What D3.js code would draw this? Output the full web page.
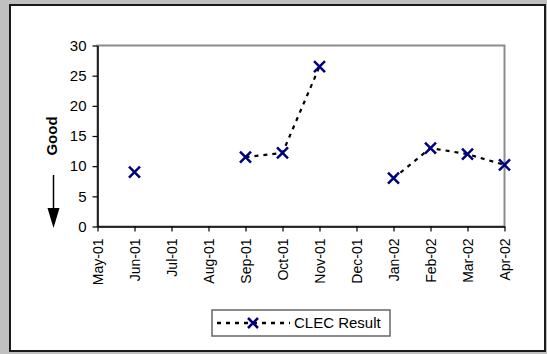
<!DOCTYPE html>
<html lang="en">
<head>
    <meta charset="UTF-8">
    <title>CLEC Result</title>
</head>

<style>
body {
    margin: 0;
    background: #c0c0c0;
}
text {
    font-family: 'Liberation Sans', Arial, sans-serif;
    fill: black;
}
</style>

<body>
<svg height="354" width="547"></svg>

<script src="https://d3js.org/d3.v7.min.js"></script>

<script>

    var months = ["May-01", "Jun-01", "Jul-01", "Aug-01", "Sep-01", "Oct-01",
                  "Nov-01", "Dec-01", "Jan-02", "Feb-02", "Mar-02", "Apr-02"];
    var clecResult = [null, 9, null, null, 11.5, 12.2, 26.5, null, 8, 13, 12, 10.2];
    var yTicks = [0, 5, 10, 15, 20, 25, 30];
    var seriesName = "CLEC Result";
    var sideLabel = "Good";

    var translate = function(left, top) {
        return "translate(" + left + "," + top + ")";
    };

    var svg = d3.select("svg");

    // white chart panel
    svg.append("rect")
        .attr("x", 10).attr("y", 5)
        .attr("width", 535).attr("height", 346)
        .attr("fill", "white")
        .attr("stroke", "#1a1a1a")
        .attr("stroke-width", 2);

    var plot = {left: 97.5, right: 504.5, top: 45.5, bottom: 226.5};

    var x = d3.scalePoint().domain(months).range([plot.left, plot.right]).padding(0);
    var y = d3.scaleLinear().domain([0, 30]).range([plot.bottom, plot.top]);

    // plot frame
    svg.append("rect")
        .attr("x", plot.left).attr("y", plot.top)
        .attr("width", plot.right - plot.left).attr("height", plot.bottom - plot.top)
        .attr("fill", "none")
        .attr("stroke", "#8c8c8c")
        .attr("stroke-width", 2);

    var yAxis = svg.append("g")
        .attr("transform", translate(plot.left, 0))
        .call(d3.axisLeft(y).tickValues(yTicks).tickSize(5).tickSizeOuter(0).tickPadding(6));

    var xAxis = svg.append("g")
        .attr("transform", translate(0, plot.bottom))
        .call(d3.axisBottom(x).tickSize(5).tickSizeOuter(0));

    [yAxis, xAxis].forEach(function(ax) {
        ax.select(".domain").attr("stroke", "black").attr("stroke-width", 1.5);
        ax.selectAll(".tick line").attr("stroke", "black").attr("stroke-width", 1.2);
    });

    yAxis.selectAll("text")
        .style("font-size", "15px")
        .attr("fill", "black");

    xAxis.selectAll("text")
        .style("font-size", "14px")
        .attr("fill", "black")
        .attr("text-anchor", "end")
        .attr("transform", "rotate(-90)")
        .attr("x", -12)
        .attr("y", 0)
        .attr("dy", "0.36em");

    // series line
    var points = months.map(function(m, i) { return {month: m, value: clecResult[i]}; });

    var line = d3.line()
        .defined(function(d) { return d.value !== null; })
        .x(function(d) { return x(d.month); })
        .y(function(d) { return y(d.value); });

    svg.append("path")
        .datum(points)
        .attr("d", line)
        .attr("fill", "none")
        .attr("stroke", "black")
        .attr("stroke-width", 2.2)
        .attr("stroke-dasharray", "4,5");

    var cross = function(sel, s) {
        sel.append("path")
            .attr("d", "M" + (-s) + "," + (-s) + "L" + s + "," + s + "M" + (-s) + "," + s + "L" + s + "," + (-s))
            .attr("stroke", "#000080")
            .attr("stroke-width", 2.5)
            .attr("fill", "none");
    };

    svg.selectAll(".marker")
        .data(points.filter(function(d) { return d.value !== null; }))
        .enter()
        .append("g")
        .attr("class", "marker")
        .attr("transform", function(d) { return translate(x(d.month), y(d.value)); })
        .each(function() { cross(d3.select(this), 5.5); });

    // "Good" label with down arrow
    svg.append("text")
        .attr("transform", translate(57, 136) + " rotate(-90)")
        .attr("text-anchor", "middle")
        .style("font-size", "15px")
        .attr("font-weight", "bold")
        .text(sideLabel);

    svg.append("line")
        .attr("x1", 53.5).attr("x2", 53.5)
        .attr("y1", 175).attr("y2", 210)
        .attr("stroke", "black")
        .attr("stroke-width", 1.5);

    svg.append("path")
        .attr("d", "M47.5,208L59.5,208L53.5,228Z")
        .attr("fill", "black");

    // legend
    var legend = svg.append("g").attr("transform", translate(212, 310));
    legend.append("rect")
        .attr("width", 178).attr("height", 26)
        .attr("fill", "white")
        .attr("stroke", "#666")
        .attr("stroke-width", 1.5);
    legend.append("line")
        .attr("x1", 5).attr("x2", 78)
        .attr("y1", 13).attr("y2", 13)
        .attr("stroke", "black")
        .attr("stroke-width", 2.5)
        .attr("stroke-dasharray", "4,5");
    cross(legend.append("g").attr("transform", translate(41, 13)), 5);
    legend.append("text")
        .attr("x", 82).attr("y", 13)
        .attr("dy", "0.36em")
        .style("font-size", "15px")
        .text(seriesName);

</script>
</body>
</html>
